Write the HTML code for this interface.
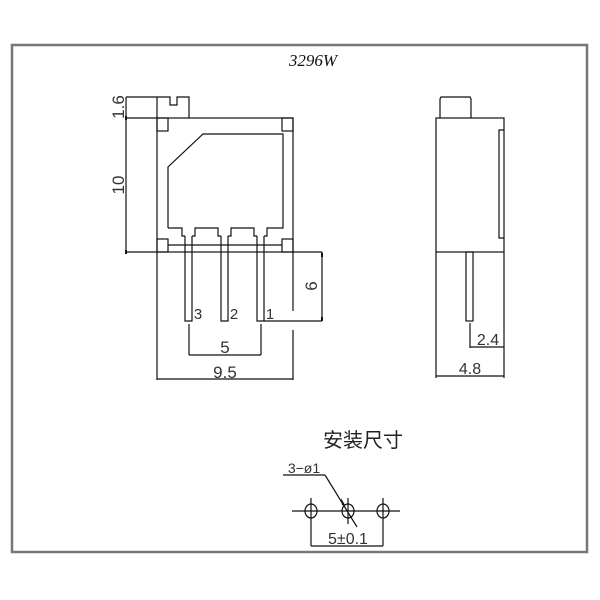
<!DOCTYPE html>
<html><head><meta charset="utf-8"><style>body{margin:0;background:#fff}svg{display:block}</style></head>
<body>
<svg width="600" height="600" viewBox="0 0 600 600" xmlns="http://www.w3.org/2000/svg">
<rect x="12" y="45" width="575" height="507" fill="none" stroke="#777" stroke-width="2.5"/>
<text x="313" y="66" font-family="Liberation Serif, serif" font-style="italic" font-size="17" text-anchor="middle" fill="#111">3296W</text>
<g fill="none" stroke="#111" stroke-width="1.2">
<rect x="157" y="118" width="136" height="134"/>
<path d="M157,97 L170,97 L170,105 L177,105 L177,97 L189,97 L189,118"/>
<path d="M157,97 L157,118"/>
<rect x="157" y="118" width="11" height="13"/><rect x="282" y="118" width="11" height="13"/>
<rect x="157" y="239" width="11" height="13"/><rect x="282" y="239" width="11" height="13"/>
<path d="M168,228 L168,167 L203,134 L283,134 L283,228 L267,228 L267,236 L264,236"/>
<path d="M257,236 L254,236 L254,228 L231,228 L231,236 L228,236"/>
<path d="M221,236 L218,236 L218,228 L195,228 L195,236 L192,236"/>
<path d="M185,236 L182,236 L182,228 L168,228"/>
<line x1="168" y1="245" x2="282" y2="245"/>
<path d="M185,236 L185,321 L192,321 L192,236"/>
<path d="M221,236 L221,321 L228,321 L228,236"/>
<path d="M257,236 L257,321 L264,321 L264,236"/>
<line x1="126" y1="97" x2="157" y2="97"/><line x1="126" y1="118" x2="157" y2="118"/><line x1="126" y1="252" x2="157" y2="252"/>
<line x1="126" y1="97" x2="126" y2="252"/>
<line x1="293" y1="252" x2="322" y2="252"/><line x1="264" y1="321" x2="322" y2="321"/><line x1="322" y1="252" x2="322" y2="321"/>
<line x1="189" y1="324" x2="189" y2="355"/><line x1="261" y1="324" x2="261" y2="355"/><line x1="189" y1="355" x2="261" y2="355"/>
<line x1="157" y1="252" x2="157" y2="380"/><line x1="293" y1="252" x2="293" y2="311"/><line x1="293" y1="330" x2="293" y2="380"/><line x1="157" y1="379" x2="293" y2="379"/>
<rect x="436" y="118" width="68" height="134"/>
<path d="M440,118 L440,99 L441,97 L470,97 L471,99 L471,118"/>
<path d="M504,130 L499,130 L499,238 L504,238"/>
<rect x="466" y="252" width="7" height="69"/>
<line x1="470" y1="323" x2="470" y2="348"/><line x1="470" y1="347" x2="504" y2="347"/>
<line x1="436" y1="252" x2="436" y2="378"/><line x1="504" y1="252" x2="504" y2="378"/><line x1="436" y1="376" x2="504" y2="376"/>
<line x1="292" y1="511" x2="400" y2="511"/>
<ellipse cx="311" cy="511" rx="6" ry="7"/><ellipse cx="348" cy="511" rx="6" ry="7"/><ellipse cx="383" cy="511" rx="6" ry="7"/>
<line x1="311" y1="498" x2="311" y2="546"/><line x1="348" y1="498" x2="348" y2="524"/><line x1="383" y1="498" x2="383" y2="546"/>
<line x1="311" y1="546" x2="383" y2="546"/>
<line x1="283" y1="475" x2="325" y2="475"/><line x1="325" y1="475" x2="357" y2="527"/>
</g>
<g fill="#111">
<rect x="125" y="116" width="2" height="4"/><rect x="125" y="250" width="2" height="4"/>
<rect x="321" y="253" width="2" height="4"/><rect x="321" y="317" width="2" height="4"/>
<polygon points="341,498 345,505 342,505"/>
</g>
<g font-family="Liberation Sans, sans-serif" font-size="17" fill="#333" text-anchor="middle">
<text transform="translate(124,107) rotate(-90)" x="0" y="0">1.6</text>
<text transform="translate(124,185) rotate(-90)" x="0" y="0">10</text>
<text transform="translate(317,286) rotate(-90)" x="0" y="0">6</text>
<text x="198" y="319" font-size="15">3</text>
<text x="234" y="319" font-size="15">2</text>
<text x="270" y="319" font-size="15">1</text>
<text x="225" y="353">5</text>
<text x="225" y="378">9.5</text>
<text x="488" y="345" font-size="16">2.4</text>
<text x="470" y="374" font-size="16">4.8</text>
<text x="304" y="473" font-size="14">3−ø1</text>
<text x="348" y="544" font-size="16">5±0.1</text>
</g>
<text x="363" y="447" font-family="Liberation Sans, 'Noto Sans CJK SC', sans-serif" font-size="20" fill="#222" text-anchor="middle">安装尺寸</text>
</svg>
</body></html>
